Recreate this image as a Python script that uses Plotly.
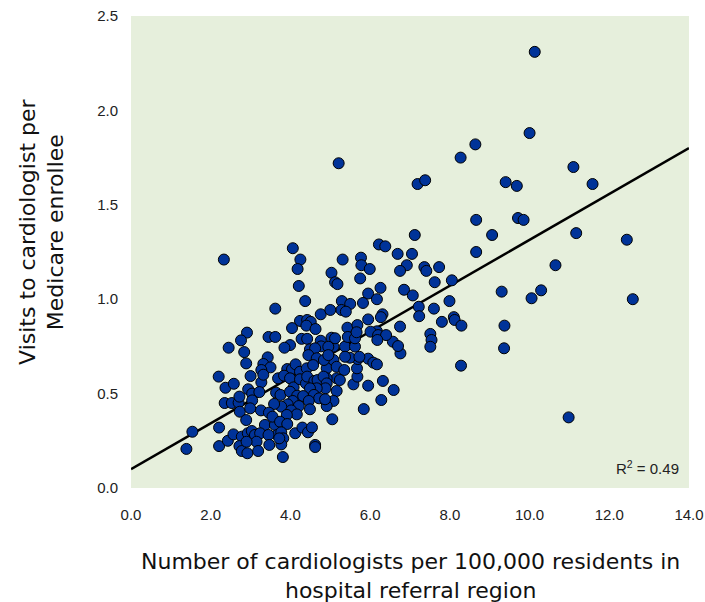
import plotly.graph_objects as go

# Cardiologists per 100,000 residents (x) vs visits per enrollee (y)
cardiologists = [
    5.21, 7.19, 7.38, 7.12, 4.06, 6.22, 6.38, 6.69, 7.05, 2.33, 4.25, 5.31, 5.77,
    10.13, 10.0, 8.64, 8.27, 11.10, 9.40, 9.68, 11.58, 8.66, 9.71, 9.85, 9.06, 11.17, 12.44, 8.66,
    6.92, 6.75, 7.36, 7.41, 7.73, 7.62, 8.05, 10.65, 6.85, 7.07, 9.30, 10.05, 10.29, 12.59,
    7.22, 7.99, 7.60, 7.23, 7.80, 8.10, 8.12, 8.29, 9.37, 6.75, 7.51, 7.54, 7.51, 6.76, 9.36, 8.28, 10.98,
    4.18, 4.21, 4.37, 3.62, 5.78, 5.99, 5.03, 5.12, 5.18, 5.75, 6.26, 5.95, 5.29, 5.50, 5.82, 6.17,
    5.28, 5.39, 4.76, 5.00, 6.31, 6.27, 5.95, 4.24, 4.42, 4.51, 4.40, 4.63, 4.04, 5.43, 5.68, 6.17,
    2.91, 2.76, 3.45, 3.62, 2.45, 2.84, 2.89, 2.20, 2.37, 2.58, 2.35, 2.53, 2.70, 2.73,
    1.54, 1.39, 2.21, 2.21, 2.43, 3.81, 4.62, 4.62, 5.05, 5.84, 6.28, 6.59, 6.32, 5.95,
    6.57, 6.70, 5.95, 6.08, 6.17, 5.58, 5.68, 5.67, 5.69, 5.49, 5.73,
    5.08, 5.37, 5.62, 5.37, 5.08, 4.91, 5.16, 5.35, 5.16, 5.24, 4.91, 5.16, 5.08, 4.91,
    5.03, 5.12, 5.44, 5.62, 5.66, 6.01, 6.20, 6.40, 6.18,
    4.28, 4.42, 4.76, 3.99, 3.85, 4.49, 4.77, 4.95,
    3.43, 3.32, 3.50, 4.62, 3.92, 4.04, 4.13, 4.45, 4.66, 4.84, 4.95, 4.24, 4.41, 4.57,
    3.00, 3.27, 3.27, 3.32, 3.69, 3.84, 3.99, 4.08, 4.24, 4.39, 4.42, 4.60, 4.68, 4.83, 4.91, 4.88, 4.66, 4.49,
    2.94, 3.04, 3.22, 3.64, 3.75, 3.99, 4.17, 4.32, 4.59, 4.72, 4.87, 4.46, 4.06, 3.93, 3.77, 3.59,
    4.21, 4.49, 3.04, 2.72, 3.26, 2.99, 3.46, 4.02, 4.16, 3.91,
    2.89, 3.36, 3.61, 3.55, 3.74, 3.92, 3.67, 3.77, 3.82, 4.12, 4.30, 4.44, 4.54,
    2.57, 2.78, 2.93, 3.03, 3.11, 3.24, 3.15, 3.45,
    2.72, 2.78, 2.90, 2.92, 3.19, 3.47, 3.77, 3.72,
]
visits = [
    1.72, 1.61, 1.63, 1.34, 1.27, 1.29, 1.28, 1.24, 1.24, 1.21, 1.21, 1.21, 1.22,
    2.31, 1.88, 1.82, 1.75, 1.70, 1.62, 1.60, 1.61, 1.42, 1.43, 1.42, 1.34, 1.35, 1.315, 1.25,
    1.18, 1.15, 1.17, 1.15, 1.17, 1.09, 1.10, 1.18, 1.05, 1.02, 1.04, 1.005, 1.047, 1.00,
    0.96, 0.99, 0.95, 0.91, 0.88, 0.905, 0.89, 0.86, 0.86, 0.855, 0.816, 0.784, 0.748, 0.713, 0.74, 0.648, 0.374,
    1.16, 1.07, 0.99, 0.95, 1.18, 1.16, 1.14, 1.09, 1.08, 1.11, 1.06, 1.03, 0.99, 0.975, 0.98, 1.00,
    0.943, 0.934, 0.92, 0.943, 0.92, 0.905, 0.893, 0.885, 0.89, 0.88, 0.86, 0.842, 0.847, 0.849, 0.863, 0.83,
    0.823, 0.782, 0.80, 0.80, 0.743, 0.72, 0.66, 0.59, 0.531, 0.552, 0.45, 0.45, 0.452, 0.404,
    0.298, 0.207, 0.32, 0.222, 0.25, 0.164, 0.228, 0.217, 0.364, 0.418, 0.466, 0.519, 0.567, 0.542,
    0.775, 0.752, 0.685, 0.664, 0.655, 0.549, 0.59, 0.634, 0.683, 0.69, 0.695,
    0.749, 0.749, 0.749, 0.695, 0.678, 0.634, 0.642, 0.625, 0.581, 0.572, 0.581, 0.514, 0.461, 0.434,
    0.796, 0.793, 0.80, 0.793, 0.825, 0.828, 0.81, 0.81, 0.784,
    0.79, 0.79, 0.78, 0.757, 0.743, 0.735, 0.75, 0.748,
    0.692, 0.657, 0.639, 0.74, 0.63, 0.63, 0.655, 0.704, 0.687, 0.678, 0.704, 0.616, 0.634, 0.651,
    0.593, 0.625, 0.56, 0.60, 0.581, 0.595, 0.581, 0.533, 0.576, 0.554, 0.59, 0.567, 0.572, 0.59, 0.554, 0.528, 0.528, 0.528,
    0.523, 0.50, 0.508, 0.505, 0.493, 0.51, 0.489, 0.487, 0.493, 0.475, 0.47, 0.461, 0.461, 0.443, 0.431, 0.445,
    0.434, 0.417, 0.464, 0.484, 0.411, 0.422, 0.399, 0.411, 0.39, 0.387,
    0.36, 0.334, 0.334, 0.378, 0.351, 0.339, 0.281, 0.295, 0.263, 0.29, 0.32, 0.295, 0.321,
    0.284, 0.272, 0.29, 0.302, 0.281, 0.29, 0.245, 0.281,
    0.222, 0.196, 0.245, 0.184, 0.196, 0.228, 0.231, 0.263,
]

# Regression line endpoints
fit_x = [0.0, 14.0]
fit_y = [0.10, 1.80]

x_ticks = [0, 2, 4, 6, 8, 10, 12, 14]
y_ticks = [0.0, 0.5, 1.0, 1.5, 2.0, 2.5]

fig = go.Figure()
fig.add_trace(go.Scatter(
    x=fit_x, y=fit_y, mode="lines",
    line=dict(color="black", width=2.5), hoverinfo="skip", showlegend=False,
))
fig.add_trace(go.Scatter(
    x=cardiologists, y=visits, mode="markers",
    marker=dict(size=11, color="#003399", line=dict(color="black", width=1)),
    showlegend=False,
))

tick_font = dict(family="Liberation Sans, Arial, sans-serif", size=15, color="#222")
title_font = dict(family="DejaVu Sans, sans-serif", size=22, color="#111")

fig.update_layout(
    width=705, height=602,
    margin=dict(l=131, r=16, t=16, b=114, autoexpand=False),
    paper_bgcolor="white", plot_bgcolor="#e6efdc",
    xaxis=dict(range=[0, 14], tickvals=x_ticks, ticktext=[f"{v:.1f}" for v in x_ticks],
               showgrid=False, zeroline=False, showline=False, ticks="", automargin=False,
               tickfont=tick_font, ticklabelstandoff=16),
    yaxis=dict(range=[0, 2.5], tickvals=y_ticks, ticktext=[f"{v:.1f}" for v in y_ticks],
               showgrid=False, zeroline=False, showline=False, ticks="", automargin=False,
               tickfont=tick_font, ticklabelstandoff=12),
    annotations=[
        dict(text="R<sup>2</sup> = 0.49", x=0.986, y=0.02, xref="paper", yref="paper",
             xanchor="right", yanchor="bottom", showarrow=False,
             font=dict(family="Liberation Sans, Arial, sans-serif", size=15, color="#222")),
        dict(text="Number of cardiologists per 100,000 residents in<br>hospital referral region",
             x=0.5, y=-0.124, xref="paper", yref="paper", xanchor="center", yanchor="top",
             showarrow=False, font=title_font),
        dict(text="Visits to cardiologist per<br>Medicare enrollee",
             x=-0.16, y=0.542, xref="paper", yref="paper", xanchor="center", yanchor="middle",
             textangle=-90, showarrow=False, font=title_font),
    ],
)

fig.write_html(
    "out.html",
    config={"displayModeBar": False},
    post_script="document.body.style.margin='0';document.body.style.overflow='hidden';",
)
